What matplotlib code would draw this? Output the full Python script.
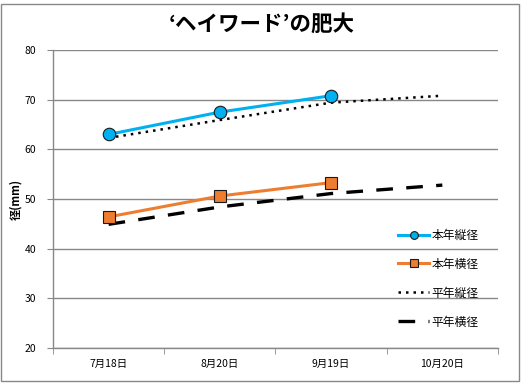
import matplotlib
matplotlib.use("Agg")
import matplotlib.pyplot as plt
from matplotlib.patches import Rectangle

plt.rcParams['font.family'] = ['Noto Sans CJK JP', 'DejaVu Sans']

categories = ['7月18日', '8月20日', '9月19日', '10月20日']
this_long = [63.0, 67.5, 70.8]
this_trans = [46.4, 50.6, 53.3]
avg_long = [62.3, 65.9, 69.4, 70.8]
avg_trans = [44.9, 48.4, 51.1, 52.8]
series_names = ['本年縦径', '本年横径', '平年縦径', '平年横径']

fig = plt.figure(figsize=(5.24, 3.88), dpi=100)
ax = fig.add_axes([0.1011, 0.1031, 0.8492, 0.768])

x = list(range(len(categories)))
ax.plot(x[:3], this_long, color='#00B0F0', lw=2.2, marker='o', ms=9,
        mfc='#00B0F0', mec='#1a1a1a', mew=0.8, label=series_names[0], zorder=4)
ax.plot(x[:3], this_trans, color='#ED7D31', lw=2.2, marker='s', ms=9,
        mfc='#ED7D31', mec='#1a1a1a', mew=0.8, label=series_names[1], zorder=4)
ax.plot(x, avg_long, color='black', lw=1.8, ls=(0, (1, 2)), label=series_names[2], zorder=3)
ax.plot(x, avg_trans, color='black', lw=2.4, ls=(0, (5, 4)), label=series_names[3], zorder=3)

ax.set_xlim(-0.5, len(categories) - 0.5)
ax.set_ylim(20, 80)
ax.set_yticks(range(20, 81, 10))
ax.set_xticks(x)
ax.set_xticklabels(categories)
ax.set_xticks([i - 0.5 for i in range(len(categories) + 1)], minor=True)
ax.tick_params(axis='x', which='major', length=0, labelsize=7.5, pad=8)
ax.tick_params(axis='x', which='minor', length=4, color='#888888', direction='out')
ax.tick_params(axis='y', length=4, color='#888888', direction='out', labelsize=7.5, pad=8)
ax.yaxis.grid(True, color='#888888', lw=1)
ax.set_axisbelow(True)
for s in ['top', 'right']:
    ax.spines[s].set_visible(False)
for s in ['left', 'bottom']:
    ax.spines[s].set_color('#888888')
    ax.spines[s].set_linewidth(1)

ax.set_ylabel('径(mm)', fontsize=8, fontweight='bold', labelpad=2)
fig.text(0.5, 0.937, '‘ヘイワード’の肥大', ha='center', va='center',
         fontsize=15.5, fontweight='bold')

leg = ax.legend(loc='center left', bbox_to_anchor=(0.752, 0.233), frameon=False,
                fontsize=8.5, handlelength=2.6, handletextpad=0.2, labelspacing=1.35,
                markerscale=0.62)

fig.patches.append(Rectangle((1 / 524, 7 / 388), 518 / 524, 377 / 388, transform=fig.transFigure,
                             fill=False, edgecolor='#888888', lw=1))

fig.savefig('out.png', dpi=100, facecolor='white')
